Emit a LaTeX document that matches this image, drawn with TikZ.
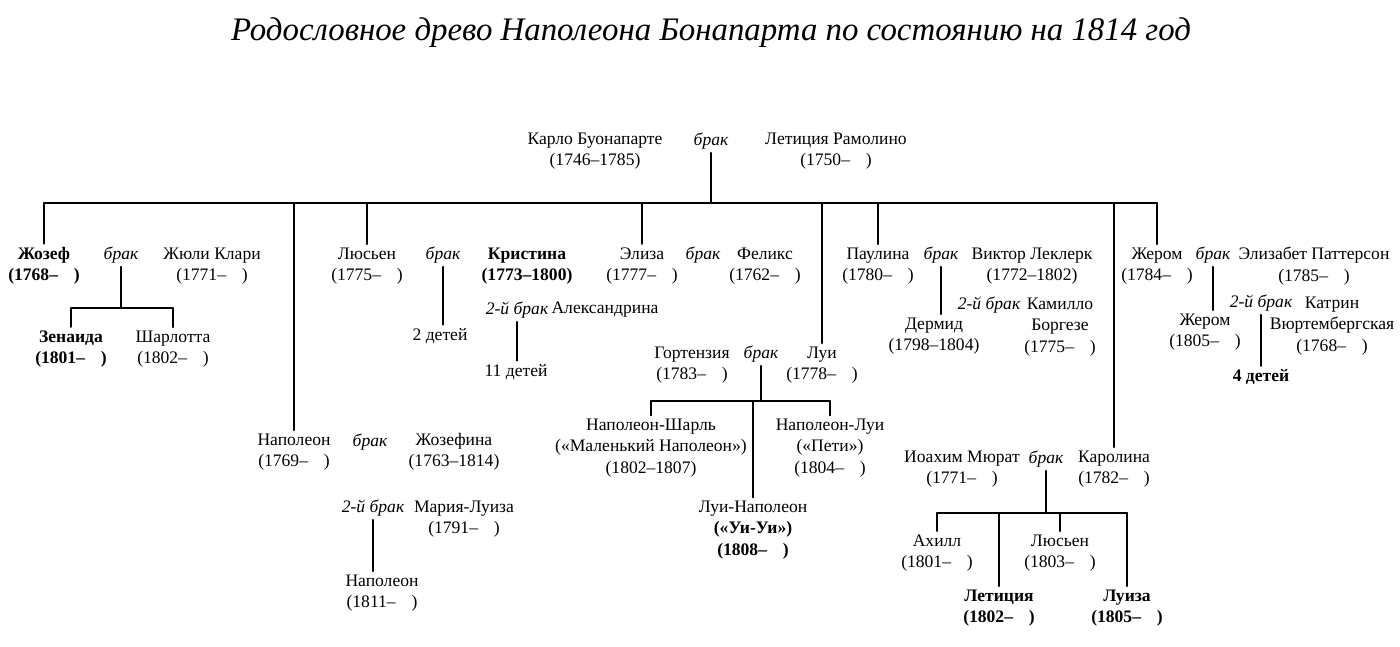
\documentclass[tikz,border=0pt]{standalone}
\usepackage{fontspec}
\setmainfont{Liberation Serif}
\newcommand{\alive}[1]{(#1–\hspace{0.9em})}
\definecolor{qqqqqq}{rgb}{0.,0.,0.}
\begin{document}
\begin{tikzpicture}[x=0.02cm,y=-0.02cm,line cap=round,line join=round,line width=1.1pt,color=qqqqqq,
  every node/.style={align=center,inner sep=1.5pt,font=\fontsize{10}{12.2}\selectfont},
  brak/.style={font=\fontsize{10}{12.2}\selectfont\itshape},
  heavy/.style={font=\fontsize{10}{12.2}\selectfont\bfseries}]
\clip(0,0) rectangle (1400,646);
\node (title) at (711,33) {\fontsize{18.7}{22}\selectfont\itshape Родословное древо Наполеона Бонапарта по состоянию на 1814 год};
\node (karlo) at (595,151) {Карло Буонапарте\\(1746–1785)};
\node[brak] (b0) at (711,141) {брак};
\node (letic) at (836,151) {Летиция Рамолино\\\alive{1750}};
\node[heavy] (joz) at (44,266) {Жозеф\\\alive{1768}};
\node[brak] (b1) at (121,255) {брак};
\node (juli) at (212,266) {Жюли Клари\\\alive{1771}};
\node[heavy] (zen) at (71,349) {Зенаида\\\alive{1801}};
\node (sharl) at (173,349) {Шарлотта\\\alive{1802}};
\node (lus) at (367,266) {Люсьен\\\alive{1775}};
\node[brak] (b2) at (443,255) {брак};
\node (kids2) at (440,336) {2 детей};
\node[heavy] (krist) at (527,266) {Кристина\\(1773–1800)};
\node[brak] (b2b) at (517,310) {2-й брак};
\node (alex) at (605,310) {Александрина};
\node (kids11) at (516,372) {11 детей};
\node (eliza) at (642,266) {Элиза\\\alive{1777}};
\node[brak] (b3) at (703,255) {брак};
\node (feliks) at (765,266) {Феликс\\\alive{1762}};
\node (gort) at (692,365) {Гортензия\\\alive{1783}};
\node[brak] (b6) at (761,354) {брак};
\node (lui) at (822,365) {Луи\\\alive{1778}};
\node (nsh) at (651,448) {Наполеон-Шарль\\(«Маленький Наполеон»)\\(1802–1807)};
\node (nl) at (830,448) {Наполеон-Луи\\(«Пети»)\\\alive{1804}};
\node (ln) at (753,530) {Луи-Наполеон\\\textbf{(«Уи-Уи»)}\\\textbf{\alive{1808}}};
\node (nap) at (294,452) {Наполеон\\\alive{1769}};
\node[brak] (b7) at (370,442) {брак};
\node (jfina) at (454,452) {Жозефина\\(1763–1814)};
\node[brak] (b7b) at (373,508) {2-й брак};
\node (marl) at (464,519) {Мария-Луиза\\\alive{1791}};
\node (nap2) at (382,593) {Наполеон\\\alive{1811}};
\node (paul) at (878,266) {Паулина\\\alive{1780}};
\node[brak] (b4) at (941,255) {брак};
\node (derm) at (934,336) {Дермид\\(1798–1804)};
\node (lekl) at (1032,266) {Виктор Леклерк\\(1772–1802)};
\node[brak] (b4b) at (989,305) {2-й брак};
\node (kam) at (1060,327) {Камилло\\Боргезе\\\alive{1775}};
\node (zher) at (1157,266) {Жером\\\alive{1784}};
\node[brak] (b5) at (1213,255) {брак};
\node (zher2) at (1205,332) {Жером\\\alive{1805}};
\node (elpat) at (1314,266) {Элизабет Паттерсон\\\alive{1785}};
\node[brak] (b5b) at (1261,303) {2-й брак};
\node (katr) at (1332,326) {Катрин\\Вюртембергская\\\alive{1768}};
\node[heavy] (kids4) at (1261,377) {4 детей};
\node (kar) at (1114,469) {Каролина\\\alive{1782}};
\node (mur) at (962,469) {Иоахим Мюрат\\\alive{1771}};
\node[brak] (b8) at (1046,459) {брак};
\node (ach) at (937,553) {Ахилл\\\alive{1801}};
\node (lus3) at (1060,553) {Люсьен\\\alive{1803}};
\node[heavy] (letc) at (999,608) {Летиция\\\alive{1802}};
\node[heavy] (luiza) at (1127,608) {Луиза\\\alive{1805}};
\coordinate (bar) at (0,203);
\coordinate (jj) at (0,308);
\coordinate (lj) at (0,401);
\coordinate (mj) at (0,513);
\draw (b0.south) -- (b0.south |- bar);
\draw (joz.north |- bar) -- (zher.north |- bar);
\draw (joz.north |- bar) -- (joz.north);
\draw (nap.north |- bar) -- (nap.north);
\draw (lus.north |- bar) -- (lus.north);
\draw (eliza.north |- bar) -- (eliza.north);
\draw (lui.north |- bar) -- (lui.north);
\draw (paul.north |- bar) -- (paul.north);
\draw (kar.north |- bar) -- (kar.north);
\draw (zher.north |- bar) -- (zher.north);
\draw (b1.south) -- (b1.south |- jj);
\draw (zen.north |- jj) -- (sharl.north |- jj);
\draw (zen.north |- jj) -- (zen.north);
\draw (sharl.north |- jj) -- (sharl.north);
\draw (b2.south) -- (b2.south |- kids2.north);
\draw (b2b.south) -- (b2b.south |- kids11.north);
\draw (b6.south) -- (b6.south |- lj);
\draw (nsh.north |- lj) -- (nl.north |- lj);
\draw (nsh.north |- lj) -- (nsh.north);
\draw (ln.north |- lj) -- (ln.north);
\draw (nl.north |- lj) -- (nl.north);
\draw (b7b.south) -- (b7b.south |- nap2.north);
\draw (b4.south) -- (b4.south |- derm.north);
\draw (b5.south) -- (b5.south |- zher2.north);
\draw (b5b.south) -- (b5b.south |- kids4.north);
\draw (b8.south) -- (b8.south |- mj);
\draw (ach.north |- mj) -- (luiza.north |- mj);
\draw (ach.north |- mj) -- (ach.north);
\draw (letc.north |- mj) -- (letc.north);
\draw (lus3.north |- mj) -- (lus3.north);
\draw (luiza.north |- mj) -- (luiza.north);
\end{tikzpicture}
\end{document}
